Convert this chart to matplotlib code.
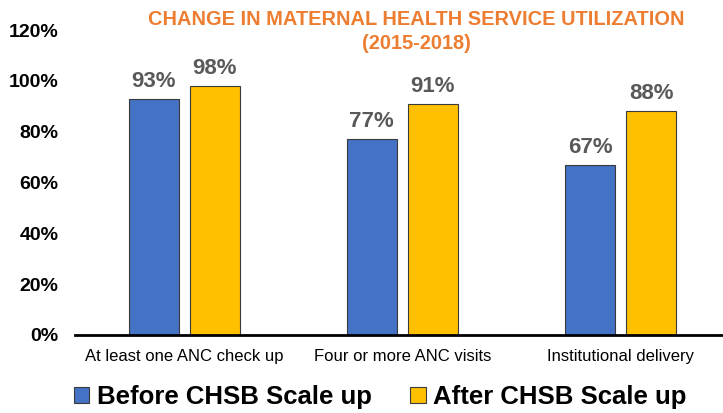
import matplotlib
matplotlib.use("Agg")
import matplotlib.pyplot as plt
import numpy as np
from matplotlib.patches import Patch

categories = ["At least one ANC check up", "Four or more ANC visits", "Institutional delivery"]
before = [93, 77, 67]
after = [98, 91, 88]
series_names = ["Before CHSB Scale up", "After CHSB Scale up"]
yticks = [0, 20, 40, 60, 80, 100, 120]

FONT = ["Liberation Sans Narrow", "Liberation Sans", "DejaVu Sans"]
plt.rcParams['font.family'] = FONT

fig = plt.figure(figsize=(7.23, 4.13), dpi=100)
ax = fig.add_axes([0.104, 0.189, 0.896, 0.738])

x = np.arange(len(categories))
off = 0.14
w = 0.228
blue = "#4472C4"
gold = "#FFC000"
b1 = ax.bar(x - off, before, w, color=blue, edgecolor="#3a3a3a", linewidth=0.8)
b2 = ax.bar(x + off, after, w, color=gold, edgecolor="#3a3a3a", linewidth=0.8)

for bars, vals in ((b1, before), (b2, after)):
    for r, v in zip(bars, vals):
        ax.text(r.get_x() + r.get_width() / 2, v + 2.8, f"{v}%", ha="center", va="bottom",
                fontsize=16, fontweight="bold", color="#595959")

ax.set_xlim(-0.5, 2.47)
ax.set_ylim(0, 120)
ax.set_yticks(yticks)
ax.set_yticklabels([f"{t}%" for t in yticks], fontsize=14, fontweight="bold")
ax.set_xticks(x)
ax.set_xticklabels(categories, fontsize=12)
ax.tick_params(axis="x", length=0, pad=10)
ax.tick_params(axis="y", length=0, pad=12)
for s in ["top", "right", "left"]:
    ax.spines[s].set_visible(False)
ax.spines["bottom"].set_linewidth(2)
ax.spines["bottom"].set_color("black")

fig.text(0.576, 0.924, "CHANGE IN MATERNAL HEALTH SERVICE UTILIZATION\n(2015-2018)",
         ha="center", va="center", fontsize=14.4, fontweight="bold", color="#ED7D31",
         linespacing=1.35)

handles = [Patch(facecolor=blue, edgecolor="#3a3a3a", linewidth=0.8),
           Patch(facecolor=gold, edgecolor="#3a3a3a", linewidth=0.8)]
fig.legend(handles, series_names, loc="center", bbox_to_anchor=(0.526, 0.038), ncol=2,
           frameon=False, prop={"size": 18.5, "weight": "bold", "family": FONT},
           handlelength=0.6, handleheight=0.6, handletextpad=0.3, columnspacing=1.5,
           borderpad=0)

fig.savefig("out.png", dpi=100)
